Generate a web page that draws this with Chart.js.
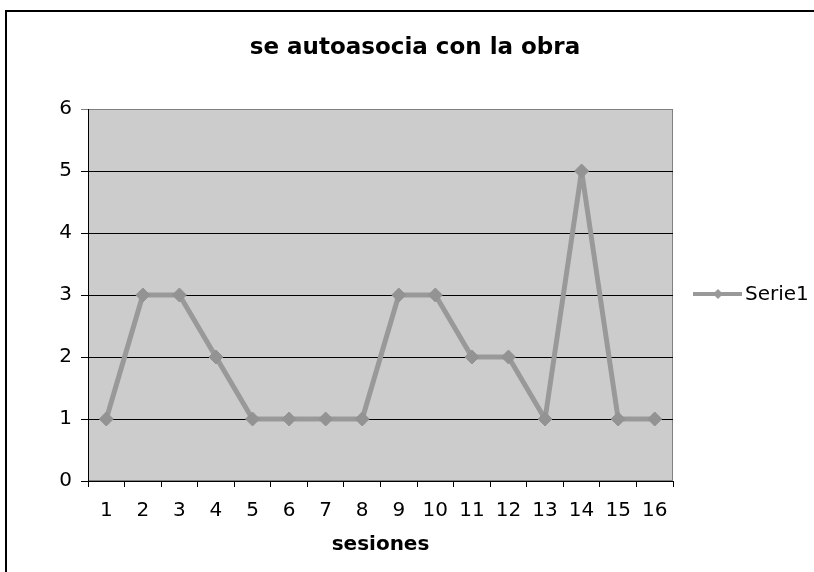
<!DOCTYPE html>
<html>
<head>
<meta charset="utf-8">
<script src="https://cdn.jsdelivr.net/npm/chart.js@4.4.1/dist/chart.umd.min.js"></script>
<style>
    html, body { margin: 0; padding: 0; background: #fff; }
    #wrap { width: 814px; height: 572px; }
</style>
</head>
<body>
<div id="wrap"><canvas id="chart" width="814" height="572"></canvas></div>
<script>
// datos del grafico
const sesiones = ['1', '2', '3', '4', '5', '6', '7', '8', '9', '10', '11', '12', '13', '14', '15', '16'];
const serie1 = [1, 3, 3, 2, 1, 1, 1, 1, 3, 3, 2, 2, 1, 5, 1, 1];
const yMin = 0;
const yMax = 6;
const yPaso = 1;
const tituloGrafico = 'se autoasocia con la obra';
const tituloEjeX = 'sesiones';
const nombreSerie = 'Serie1';

const fuente = "'DejaVu Sans', Verdana, sans-serif";
const grisLinea = '#999999';

// fondo gris del area de trazado + borde gris
const fondoArea = {
    id: 'fondoArea',
    beforeDraw(chart) {
        const { ctx, chartArea: a } = chart;
        ctx.save();
        ctx.fillStyle = '#cccccc';
        ctx.fillRect(a.left, a.top, a.right - a.left, a.bottom - a.top);
        ctx.strokeStyle = '#808080';
        ctx.lineWidth = 1;
        ctx.strokeRect(a.left + 0.5, a.top + 0.5, a.right - a.left - 1, a.bottom - a.top - 1);
        ctx.restore();
    }
};

// titulo, marco exterior y leyenda
const extras = {
    id: 'extras',
    afterDraw(chart) {
        const { ctx, chartArea: a } = chart;
        ctx.save();
        // marco negro
        ctx.strokeStyle = '#000';
        ctx.lineWidth = 2;
        ctx.beginPath();
        ctx.moveTo(6, 572);
        ctx.lineTo(6, 11);
        ctx.lineTo(814, 11);
        ctx.stroke();

        // titulo
        ctx.fillStyle = '#000';
        ctx.font = "bold 23px " + fuente;
        ctx.textAlign = 'center';
        ctx.textBaseline = 'middle';
        ctx.fillText(tituloGrafico, 415, 48);

        // leyenda
        const ly = (a.top + a.bottom) / 2 - 1;
        ctx.strokeStyle = grisLinea;
        ctx.lineWidth = 4;
        ctx.beginPath();
        ctx.moveTo(693, ly);
        ctx.lineTo(742, ly);
        ctx.stroke();
        ctx.fillStyle = grisLinea;
        ctx.beginPath();
        ctx.moveTo(718, ly - 5);
        ctx.lineTo(723, ly);
        ctx.lineTo(718, ly + 5);
        ctx.lineTo(713, ly);
        ctx.closePath();
        ctx.fill();
        ctx.fillStyle = '#000';
        ctx.font = "20px " + fuente;
        ctx.textAlign = 'left';
        ctx.fillText(nombreSerie, 745, ly + 1);
        ctx.restore();
    }
};

new Chart(document.getElementById('chart'), {
    type: 'line',
    data: {
        labels: sesiones,
        datasets: [{
            label: nombreSerie,
            data: serie1,
            borderColor: grisLinea,
            backgroundColor: grisLinea,
            borderWidth: 5,
            borderJoinStyle: 'round',
            pointStyle: 'rectRot',
            pointRadius: 7,
            pointBackgroundColor: '#939393',
            pointBorderColor: '#939393',
            pointBorderWidth: 1,
            tension: 0,
            fill: false
        }]
    },
    options: {
        responsive: false,
        animation: false,
        layout: { padding: { top: 109, left: 16, right: 141, bottom: 0 } },
        plugins: {
            legend: { display: false },
            title: { display: false },
            tooltip: { enabled: false }
        },
        scales: {
            x: {
                offset: true,
                grid: {
                    offset: true,
                    drawOnChartArea: false,
                    drawTicks: true,
                    tickLength: 6,
                    color: '#000'
                },
                border: { color: '#000', width: 1 },
                ticks: {
                    color: '#000',
                    font: { family: fuente, size: 20 },
                    padding: 12,
                    maxRotation: 0,
                    autoSkip: false
                },
                title: {
                    display: true,
                    text: tituloEjeX,
                    color: '#000',
                    font: { family: fuente, size: 20, weight: 'bold' },
                    padding: { top: 0, bottom: 15 }
                },
                afterFit(scale) { scale.height = 91; }
            },
            y: {
                min: yMin,
                max: yMax,
                grid: {
                    color: ctx => (ctx.tick && ctx.tick.value === yMax) ? '#808080' : '#000',
                    tickLength: 7,
                    lineWidth: 1
                },
                border: { color: '#000', width: 1 },
                ticks: {
                    stepSize: yPaso,
                    color: '#000',
                    font: { family: fuente, size: 20 },
                    padding: 9
                },
                afterFit(scale) { scale.width = 72; }
            }
        }
    },
    plugins: [fondoArea, extras]
});
</script>
</body>
</html>
